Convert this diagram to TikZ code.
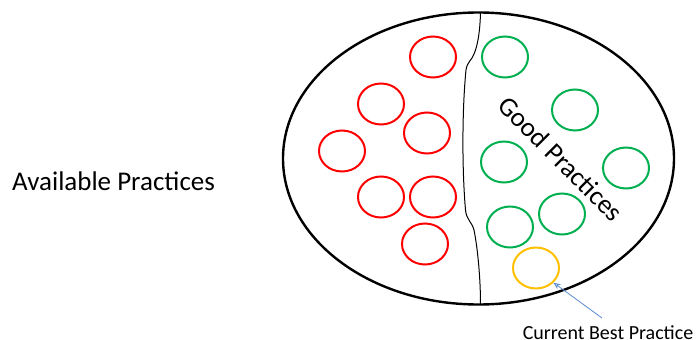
\documentclass[tikz,border=0pt]{standalone}
\usepackage{fontspec}
\setmainfont{Carlito}
\usetikzlibrary{arrows.meta,shapes.geometric}
\begin{document}
\begin{tikzpicture}[x=1pt,y=-1pt,
  practice/.style={draw,line width=2pt,ellipse,minimum width=46pt,minimum height=41pt,inner sep=0pt},
  badp/.style={practice,draw=red},
  goodp/.style={practice,draw=gpgreen},
  bestp/.style={practice,draw=bpyellow},
  lbl/.style={font=\fontsize{27}{30}\selectfont,inner sep=0pt}]
\definecolor{gpgreen}{HTML}{00B050}
\definecolor{bpyellow}{HTML}{FFC000}
\definecolor{arrowblue}{HTML}{5B8BD0}
\useasboundingbox (0,0) rectangle (697,340);
\fill[white] (0,0) rectangle (697,340);

% outer set of practices
\draw[line width=2.4pt] (478.5,158.5) ellipse [x radius=195.5, y radius=146];

% dividing line between the two groups
\draw[line width=1pt] (480.5,13) .. controls (480,30) and (478,45) .. (474,54)
  .. controls (472,60) and (467,62) .. (466,70)
  .. controls (462,110) and (462,170) .. (465.5,210)
  .. controls (466.5,220) and (472,222) .. (474,230)
  .. controls (478,250) and (480.5,280) .. (480.5,304);

% red practices
\node[badp] (r1) at (433,57) {};
\node[badp] (r2) at (381,104) {};
\node[badp] (r3) at (427,133) {};
\node[badp] (r4) at (342,151) {};
\node[badp] (r5) at (381,197) {};
\node[badp] (r6) at (433,197) {};
\node[badp] (r7) at (425,244) {};

% green practices
\node[goodp] (g1) at (505,57) {};
\node[goodp] (g2) at (575,110) {};
\node[goodp] (g3) at (504,162) {};
\node[goodp] (g4) at (626,168) {};
\node[goodp] (g5) at (510,227) {};
\node[goodp] (g6) at (562,214) {};

% best practice
\node[bestp] (b1) at (536,268) {};

% labels
\node[lbl,anchor=west] (avail) at (12,181) {Available Practices};
\node[lbl,rotate=-45] (good) at (561,159) {Good Practices};
\node[font=\fontsize{20}{24}\selectfont,inner sep=0pt] (cbp) at (608,333) {Current Best Practice};
\coordinate (cbptail) at (602,318);
\draw[arrowblue,line width=0.8pt,-{Stealth[length=7pt,width=6pt,open]}] (cbptail) -- (b1.-40);
\end{tikzpicture}
\end{document}
